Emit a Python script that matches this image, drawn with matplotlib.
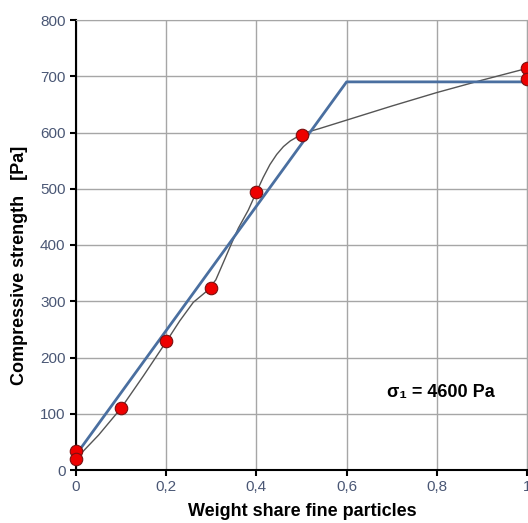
import numpy as np
import matplotlib.pyplot as plt
from matplotlib.ticker import FuncFormatter

plt.rcParams['font.family'] = ['Liberation Sans', 'DejaVu Sans']

# measured points
x_pts = [0, 0, 0.1, 0.2, 0.3, 0.4, 0.5, 1.0, 1.0]
y_pts = [33, 20, 110, 230, 324, 494, 596, 714, 695]

# bilinear fit
x_fit = [0, 0.6, 1.0]
y_fit = [27, 690, 690]

# gray trend curve
x_trend = [0, 0.05, 0.1, 0.15, 0.2, 0.23, 0.26, 0.29, 0.31, 0.33, 0.345, 0.36,
           0.382, 0.4, 0.415, 0.43, 0.445, 0.46, 0.475, 0.49, 0.51, 0.54,
           0.6, 0.7, 0.8, 0.9, 1.0]
y_trend = [20, 62, 110, 168, 228, 265, 298, 318, 338, 375, 403, 430,
           462, 494, 520, 543, 561, 575, 585, 592, 600, 607,
           622, 647, 671, 693, 714]

tick_col = '#4a5775'

fig = plt.figure(figsize=(5.28, 5.23), dpi=100)
ax = fig.add_axes([76/528, 1 - 470/523, 451/528, 450/523])

ax.plot(x_trend, y_trend, color='#555555', lw=1.0, zorder=3)
ax.plot(x_fit, y_fit, color='#4a6fa0', lw=2.0, zorder=4)
ax.plot(x_pts, y_pts, 'o', ms=9, mfc='#ee0000', mec='#7a1010', mew=0.8,
        zorder=5, clip_on=False)

ax.set_xlim(0, 1)
ax.set_ylim(0, 800)
ax.set_xticks(np.arange(0, 1.01, 0.2))
ax.set_yticks(np.arange(0, 801, 100))
ax.xaxis.set_major_formatter(FuncFormatter(
    lambda v, p: '0' if v == 0 else ('1' if v == 1 else f'{v:.1f}'.replace('.', ','))))
ax.grid(True, color='#a6a6a6', lw=1.0)
ax.set_axisbelow(True)

for s in ['top', 'right']:
    ax.spines[s].set_color('#a6a6a6')
for s in ['left', 'bottom']:
    ax.spines[s].set_color('black')
    ax.spines[s].set_linewidth(1.5)

ax.tick_params(axis='both', labelsize=11, labelcolor=tick_col, length=4,
               width=1.5, color='black')

fig.text(302/528, 1 - 511/523, 'Weight share fine particles', ha='center',
         va='center', fontsize=13, fontweight='bold')
fig.text(20/528, 1 - 265/523, 'Compressive strength   [Pa]', ha='center',
         va='center', rotation=90, fontsize=13, fontweight='bold')

ax.text(0.69, 138, 'σ\u2081 = 4600 Pa', fontsize=13, fontweight='bold',
        va='center', ha='left')

fig.savefig('out.png', dpi=100)
